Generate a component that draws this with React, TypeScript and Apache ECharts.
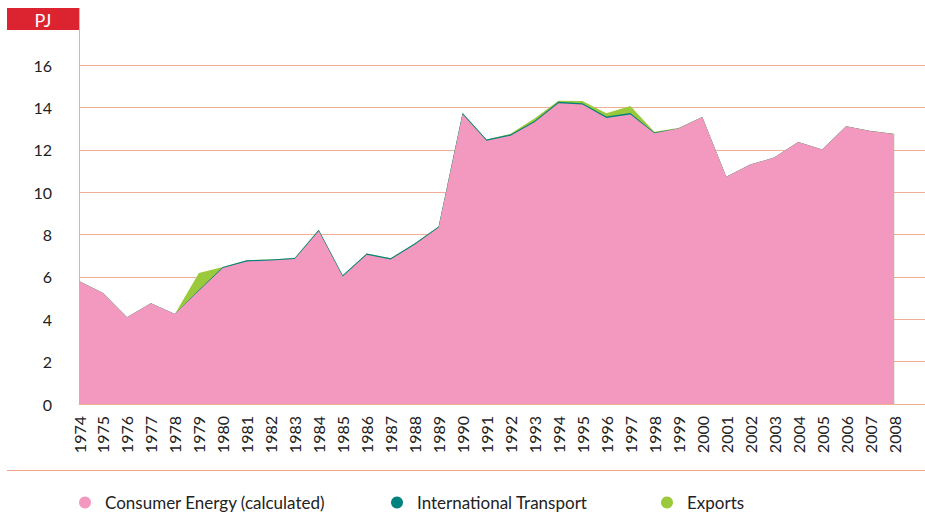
import React, { useEffect, useRef } from "react";
import * as echarts from "echarts";

const years = [1974,1975,1976,1977,1978,1979,1980,1981,1982,1983,1984,1985,1986,1987,1988,1989,1990,1991,1992,1993,1994,1995,1996,1997,1998,1999,2000,2001,2002,2003,2004,2005,2006,2007,2008];
const consumerEnergy = [5.8,5.24,4.1,4.76,4.25,5.35,6.42,6.73,6.77,6.84,8.17,6.02,7.04,6.82,7.52,8.33,13.68,12.42,12.66,13.3,14.2,14.13,13.5,13.66,12.78,13.0,13.55,10.72,11.3,11.63,12.36,12.01,13.11,12.88,12.74];
const internationalTransport = [0,0,0,0,0,0.03,0.05,0.05,0.05,0.05,0.06,0.06,0.06,0.06,0.05,0.05,0.06,0.06,0.06,0.06,0.07,0.07,0.07,0.07,0.03,0,0,0,0,0,0,0,0,0,0];
const exportsData = [0,0,0,0,0,0.8,0,0,0,0,0,0,0,0,0,0,0,0,0.03,0.12,0.04,0.1,0.15,0.34,0.04,0.03,0,0,0,0,0,0,0,0.02,0.02];
const yTicks = [0,2,4,6,8,10,12,14,16];

const FONT = "Lato";
const PINK = "#F399C0";
const TEAL = "#00827F";
const GREEN = "#9ACA3C";
const GRID = "#F3AE98";

export default function App() {
  const ref = useRef<HTMLDivElement>(null);
  useEffect(() => {
    const chart = echarts.init(ref.current!, undefined, { renderer: "svg" });
    // cumulative (stacked) totals, drawn back-to-front
    const lvl1 = consumerEnergy;
    const lvl2 = consumerEnergy.map((v, i) => v + internationalTransport[i]);
    const lvl3 = lvl2.map((v, i) => v + exportsData[i]);
    const mk = (arr: number[]) => years.map((y, i) => [y, +arr[i].toFixed(3)]);
    const legendBase = {
      top: 489,
      icon: "circle",
      itemWidth: 12,
      itemHeight: 12,
      selectedMode: false,
      textStyle: { fontFamily: FONT, fontSize: 17, color: "#222", padding: [0, 0, 0, 9] },
    };
    const areaSeries = (name: string, arr: number[], color: string, z: number) => ({
      name,
      type: "line",
      data: mk(arr),
      symbol: "none",
      z,
      lineStyle: { width: 0 },
      areaStyle: { color, opacity: 1 },
      itemStyle: { color },
    });
    chart.setOption({
      animation: false,
      grid: { left: 79, right: 0, top: 65, bottom: 114 },
      xAxis: {
        type: "value",
        min: 1974,
        max: 2009.29,
        interval: 1,
        axisLine: { show: true, lineStyle: { color: GRID, width: 1 } },
        axisTick: { show: false },
        splitLine: { show: false },
        axisLabel: {
          rotate: 90,
          margin: 12,
          fontFamily: FONT,
          fontSize: 16,
          color: "#222",
          formatter: (v: number) => (v <= 2008 ? String(v) : ""),
        },
      },
      yAxis: {
        type: "value",
        min: yTicks[0],
        max: yTicks[yTicks.length - 1],
        interval: 2,
        axisLine: { show: true, lineStyle: { color: GRID, width: 1 } },
        axisTick: { show: false },
        splitLine: { show: true, lineStyle: { color: GRID, width: 1 } },
        axisLabel: { margin: 27, fontFamily: FONT, fontSize: 16, color: "#222" },
      },
      legend: [
        { ...legendBase, left: 74, data: ["Consumer Energy (calculated)"] },
        { ...legendBase, left: 386, data: ["International Transport"] },
        { ...legendBase, left: 656, data: ["Exports"] },
      ],
      graphic: [
        { type: "line", shape: { x1: 79.5, y1: 8, x2: 79.5, y2: 65 }, style: { stroke: GRID, lineWidth: 1 }, z: 10 },
        { type: "rect", shape: { x: 7, y: 8, width: 72, height: 22 }, style: { fill: "#DC2430" }, z: 11 },
        { type: "text", x: 43, y: 20, style: { text: "PJ", fill: "#fff", font: `normal 18px ${FONT}`, textAlign: "center", textVerticalAlign: "middle" }, z: 12 },
        { type: "line", shape: { x1: 7, y1: 470.5, x2: 925, y2: 470.5 }, style: { stroke: "#F0A58A", lineWidth: 1 }, z: 10 },
      ],
      series: [
        areaSeries("Consumer Energy (calculated)", lvl1, PINK, 4),
        areaSeries("International Transport", lvl2, TEAL, 3),
        areaSeries("Exports", lvl3, GREEN, 2),
      ],
    });
    return () => chart.dispose();
  }, []);
  return <div ref={ref} style={{ width: 925, height: 518, position: "absolute", left: 0, top: 0 }} />;
}
